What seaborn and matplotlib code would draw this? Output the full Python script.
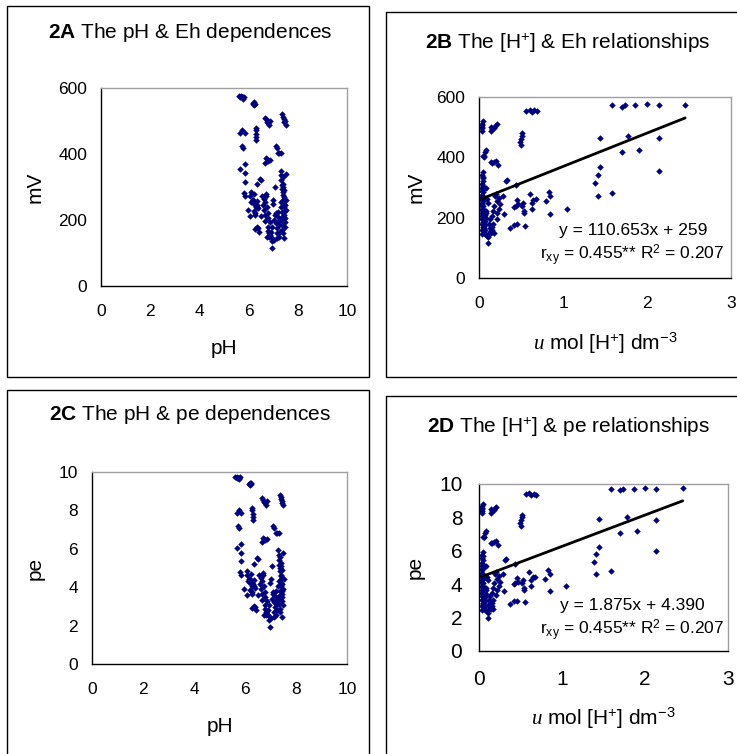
import numpy as np
import pandas as pd
import matplotlib
matplotlib.use("Agg")
import matplotlib.pyplot as plt
import seaborn as sns
from matplotlib.patches import Rectangle

# ---------------- data ----------------
ph = [5.61, 5.67, 5.73, 5.76, 5.77, 5.80, 5.70,
      6.16, 6.18, 6.20, 6.22, 6.25,
      6.68, 6.72, 6.75, 6.80, 6.83, 6.85,
      7.37, 7.40, 7.42, 7.45, 7.47, 7.50,
      5.67, 5.75, 5.84,
      6.29, 6.29, 6.30, 6.31, 6.30,
      5.72, 5.77,
      7.10, 7.15, 7.20, 7.25, 7.32,
      6.65, 6.70, 6.75, 6.80, 6.85,
      5.67, 5.84, 5.85, 5.86,
      6.48, 6.50, 6.36, 7.06,
      5.80, 5.85, 6.08, 6.07, 6.10, 6.07, 5.98,
      6.54, 6.52, 6.43, 6.38, 6.34, 6.38, 6.36, 6.33, 6.34,
      6.29, 6.28, 6.27, 6.27, 6.26, 6.22, 6.20, 6.19, 6.20, 6.17,
      6.60, 6.62, 6.66, 6.68, 6.70, 6.66, 6.62,
      6.72, 6.75, 6.78, 6.80, 6.82, 6.84, 6.86, 6.88, 6.90, 6.92,
      6.94, 6.95, 6.97, 6.98, 7.00, 7.02, 7.05, 7.08, 7.10, 7.12,
      7.14, 7.15, 7.17, 7.18, 7.20, 7.22, 7.24, 7.25, 7.27,
      7.30, 7.32, 7.33, 7.35, 7.36, 7.38, 7.40, 7.41, 7.42, 7.43,
      7.44, 7.45, 7.46, 7.47, 7.48, 7.45, 7.38, 7.40, 7.43, 7.46,
      7.50, 7.52, 7.35, 7.37, 7.32, 7.34, 7.36, 7.31, 7.33, 7.39,
      7.41, 7.44, 7.50, 6.80, 6.76, 6.78]

eh_mv = [575, 572, 573, 572, 568, 574, 576,
         552, 556, 550, 557, 553,
         510, 505, 498, 494, 488, 500,
         520, 512, 506, 496, 501, 488,
         464, 472, 465,
         480, 472, 462, 452, 442,
         425, 417,
         425, 418, 404, 402, 403,
         374, 388, 385, 380, 383,
         355, 369, 341, 315,
         325, 322, 308, 300,
         282, 273, 286, 273, 255, 213, 229,
         272, 211, 165, 175, 178, 235, 240, 245, 257,
         240, 250, 222, 215, 172, 278, 250, 260, 228, 262,
         245, 230, 214, 197, 280, 255, 265,
         272, 240, 222, 205, 160, 150, 155, 195, 165, 150,
         180, 135, 115, 250, 262, 140, 200, 215, 222, 190,
         160, 145, 175, 210, 225, 150, 198, 185, 165,
         350, 335, 320, 305, 295, 285, 275, 262, 250, 240,
         225, 215, 205, 195, 180, 145, 330, 300, 270, 245,
         230, 260, 210, 225, 200, 185, 170, 240, 255, 160,
         310, 290, 340, 168, 150, 180]

# [H+] in umol/dm3 and pe are unit conversions of pH and Eh (as in the source)
h_umol = [10 ** (6 - p) for p in ph]
pe = [e / 59.0 for e in eh_mv]

eh_slope, eh_intercept = 110.653, 259.0
pe_slope, pe_intercept = 1.875, 4.390

titles_bold = ["2A", "2B", "2C", "2D"]
titles_rest = [r"The pH & Eh dependences",
               r"The [H$^{+}$] & Eh relationships",
               r"The pH & pe dependences",
               r"The [H$^{+}$] & pe relationships"]
eq_eh = "y = 110.653x + 259"
eq_pe = "y = 1.875x + 4.390"
stat_txt = r"r$_{\mathrm{xy}}$ = 0.455** R$^{2}$ = 0.207"
h_label = r"$\mathit{u}$ mol [H$^{+}$] dm$^{\mathrm{-3}}$"

df = pd.DataFrame({"pH": ph, "Eh": eh_mv, "H": h_umol, "pe": pe})

# ---------------- style ----------------
sns.set_style("white")
plt.rcParams["font.family"] = ["Liberation Sans", "DejaVu Sans"]
plt.rcParams["mathtext.fontset"] = "custom"
plt.rcParams["mathtext.rm"] = "Liberation Sans"
plt.rcParams["mathtext.bf"] = "Liberation Sans:bold"
plt.rcParams["mathtext.it"] = "Liberation Serif:italic"
for k in ["text.color", "axes.labelcolor", "xtick.color", "ytick.color"]:
    plt.rcParams[k] = "black"

W, H = 737, 754
fig = plt.figure(figsize=(W / 100, H / 100), dpi=100)
fig.patch.set_facecolor("white")

def fx(px):
    return px / W

def fy(py):
    return 1 - py / H

def add_axes(l, r, t, b):
    return fig.add_axes([fx(l), fy(b), fx(r) - fx(l), fy(t) - fy(b)])

# panel boxes
for (l, t, r, b) in [(7, 6, 369, 377), (386, 12, 740, 377), (7, 390, 369, 760), (386, 396, 740, 760)]:
    fig.patches.append(Rectangle((fx(l), fy(b)), fx(r) - fx(l), fy(t) - fy(b),
                                 transform=fig.transFigure, fill=False,
                                 edgecolor="black", linewidth=1.0))

axA = add_axes(101, 347, 88, 286)
axB = add_axes(479, 731, 97, 278)
axC = add_axes(92, 347, 472, 664)
axD = add_axes(479, 728, 484, 651)

navy = "#000080"

def style(ax, xlim, xticks, ylim, yticks, xlabel, ylabel, ylabelpad,
          tsize=12.5, ypad=6, xpad=9, xlabelpad=14):
    ax.set_xlim(*xlim)
    ax.set_ylim(*ylim)
    ax.set_xticks(xticks)
    ax.set_yticks(yticks)
    ax.tick_params(axis="both", direction="out", length=4, width=1, color="black",
                   labelsize=tsize)
    ax.tick_params(axis="y", pad=ypad)
    ax.tick_params(axis="x", pad=xpad)
    for s in ["top", "right"]:
        ax.spines[s].set_color("#a0a0a0")
        ax.spines[s].set_linewidth(1.0)
    for s in ["left", "bottom"]:
        ax.spines[s].set_color("black")
        ax.spines[s].set_linewidth(1.0)
    ax.set_xlabel(xlabel, fontsize=15, labelpad=xlabelpad)
    ax.set_ylabel(ylabel, fontsize=15, labelpad=ylabelpad)
    ax.grid(False)

# A
sns.scatterplot(data=df, x="pH", y="Eh", ax=axA, color=navy, marker="D", s=11,
                linewidth=0, legend=False)
style(axA, (0, 10), [0, 2, 4, 6, 8, 10], (0, 600), [0, 200, 400, 600], "pH", "mV", 10)

# B
sns.scatterplot(data=df, x="H", y="Eh", ax=axB, color=navy, marker="D", s=11,
                linewidth=0, legend=False)
xr = np.array([min(h_umol), max(h_umol)])
sns.lineplot(x=xr, y=eh_slope * xr + eh_intercept, ax=axB, color="black", linewidth=2)
style(axB, (0, 3), [0, 1, 2, 3], (0, 600), [0, 200, 400, 600], h_label, "mV", 8)
axB.text(0.905, 0.262, eq_eh, transform=axB.transAxes, ha="right", va="center", fontsize=12.5)
axB.text(0.975, 0.125, stat_txt, transform=axB.transAxes, ha="right", va="center", fontsize=12.5)

# C
sns.scatterplot(data=df, x="pH", y="pe", ax=axC, color=navy, marker="D", s=11,
                linewidth=0, legend=False)
style(axC, (0, 10), [0, 2, 4, 6, 8, 10], (0, 10), [0, 2, 4, 6, 8, 10], "pH", "pe", 10)

# D
sns.scatterplot(data=df, x="H", y="pe", ax=axD, color=navy, marker="D", s=11,
                linewidth=0, legend=False)
sns.lineplot(x=xr, y=pe_slope * xr + pe_intercept, ax=axD, color="black", linewidth=2)
style(axD, (0, 3), [0, 1, 2, 3], (0, 10), [0, 2, 4, 6, 8, 10], h_label, "pe", 10,
      tsize=15, ypad=8, xpad=10, xlabelpad=12)
axD.text(0.905, 0.27, eq_pe, transform=axD.transAxes, ha="right", va="center", fontsize=12.5)
axD.text(0.985, 0.125, stat_txt, transform=axD.transAxes, ha="right", va="center", fontsize=12.5)

# titles
for (cx, cy), b, rest in zip([(190, 33), (568, 43), (190, 415), (569, 427)], titles_bold, titles_rest):
    fig.text(fx(cx), fy(cy), r"$\mathbf{" + b + "}$ " + rest, ha="center", va="center",
             fontsize=15)

fig.savefig("out.png", dpi=100)
